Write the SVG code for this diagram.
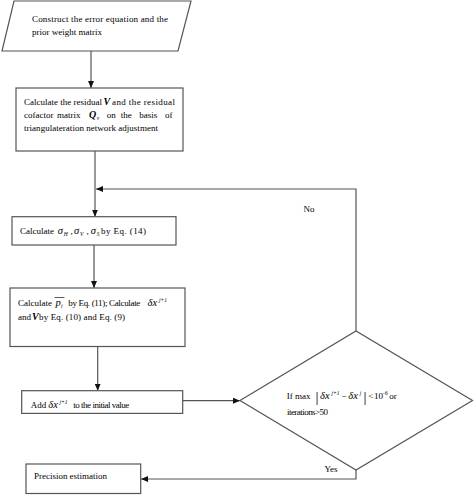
<svg xmlns="http://www.w3.org/2000/svg" width="474" height="495" viewBox="0 0 474 495">
<defs>
<style>
.box{fill:#fff;stroke:#555;stroke-width:1.2}
.con{fill:none;stroke:#555;stroke-width:1.2}
text{font-family:"Liberation Serif","Times New Roman",serif;font-size:9px;fill:#000}
.it{font-style:italic}
.m{font-style:italic;font-size:10.5px}
.bi{font-style:italic;font-weight:bold;font-size:10px}
.sub{font-size:5.5px;font-style:italic}
</style>
<marker id="ah" markerWidth="7" markerHeight="6" refX="7" refY="3" orient="auto" markerUnits="userSpaceOnUse">
<path d="M0,0 L7,3 L0,6 z" fill="#111"/>
</marker>
</defs>
<rect width="474" height="495" fill="#fff"/>

<g id="connectors">
<path class="con" d="M91,51 V88" marker-end="url(#ah)"/>
<path class="con" d="M95,151 V216.7" marker-end="url(#ah)"/>
<path class="con" d="M356,331 V189 H96" marker-end="url(#ah)"/>
<path class="con" d="M94,245 V288" marker-end="url(#ah)"/>
<path class="con" d="M97.7,346.5 V390.7" marker-end="url(#ah)"/>
<path class="con" d="M182.7,400.7 H240" marker-end="url(#ah)"/>
<path class="con" d="M356,470 V479 H141" marker-end="url(#ah)"/>
<text x="309" y="211.5" text-anchor="middle">No</text>
<text x="331" y="471.5" text-anchor="middle">Yes</text>
</g>

<g id="n1">
<polygon class="box" points="14,1 191,1 178,51 2,51"/>
<text x="32" y="21.5" textLength="136" lengthAdjust="spacing">Construct the error equation and the</text>
<text x="32" y="34.5">prior weight matrix</text>
</g>

<g id="n2">
<rect class="box" x="16" y="88" width="167" height="63"/>
<text x="24" y="104.5" textLength="78" lengthAdjust="spacingAndGlyphs">Calculate the residual</text>
<text x="103.5" y="104.5" class="bi">V</text>
<text x="112" y="104.5" textLength="63" lengthAdjust="spacing">and the residual</text>
<text x="24" y="117.5">cofactor</text>
<text x="57" y="117.5">matrix</text>
<text x="89" y="117.5" class="bi">Q</text>
<text x="96.8" y="119.5" class="sub">v</text>
<text x="106.7" y="117.5">on</text>
<text x="120.7" y="117.5">the</text>
<text x="139.3" y="117.5">basis</text>
<text x="165" y="117.5">of</text>
<text x="24" y="131" textLength="134" lengthAdjust="spacing">triangulateration network adjustment</text>
</g>

<g id="n3">
<rect class="box" x="12" y="216.7" width="164" height="28.3"/>
<text x="20" y="234">Calculate</text>
<text x="57.7" y="234" class="m">σ</text>
<text x="63.8" y="236" class="sub">H</text>
<text x="70.5" y="234">,</text>
<text x="74" y="234" class="m">σ</text>
<text x="80.1" y="236" class="sub">V</text>
<text x="86.5" y="234">,</text>
<text x="90.7" y="234" class="m">σ</text>
<text x="96.8" y="236" class="sub">S</text>
<text x="101" y="234" textLength="45" lengthAdjust="spacing">by Eq. (14)</text>
</g>

<g id="n4">
<rect class="box" x="10" y="288" width="175" height="58.5"/>
<text x="18" y="306">Calculate</text>
<line x1="54.5" y1="297.5" x2="64.5" y2="297.5" stroke="#111" stroke-width="0.7"/>
<text x="55.5" y="306" class="m">p</text>
<text x="61.1" y="308" class="sub">i</text>
<text x="68.3" y="306" textLength="72" lengthAdjust="spacing">by Eq. (11); Calculate</text>
<text x="147.5" y="306" class="m">δx</text>
<text x="159" y="302" class="sub">j+1</text>
<text x="18" y="320">and</text>
<text x="32" y="320" class="bi">V</text>
<text x="39" y="320" textLength="86" lengthAdjust="spacing">by Eq. (10) and Eq. (9)</text>
</g>

<g id="n5">
<rect class="box" x="21.7" y="390.7" width="161" height="22.7"/>
<text x="30.7" y="407.5">Add</text>
<text x="48.3" y="407.5" class="m">δx</text>
<text x="59.6" y="403.5" class="sub">j+1</text>
<text x="73.3" y="407.5" textLength="56" lengthAdjust="spacing">to the initial value</text>
</g>

<g id="n6">
<polygon class="box" points="240,400.5 356,331 472.5,400.5 356,470"/>
<text x="286.7" y="399">If</text>
<text x="295" y="399">max</text>
<text x="315.5" y="401.5" style="font-size:15px">|</text>
<text x="320" y="399" class="m">δx</text>
<text x="331.4" y="395" class="sub">j+1</text>
<text x="341.5" y="399">−</text>
<text x="348.3" y="399" class="m">δx</text>
<text x="359.7" y="395" class="sub">j</text>
<text x="363.5" y="401.5" style="font-size:15px">|</text>
<text x="368.3" y="399">&lt;</text>
<text x="374" y="399">10</text>
<text x="382" y="395" style="font-size:5.5px">−6</text>
<text x="389.3" y="399">or</text>
<text x="287" y="415" textLength="41" lengthAdjust="spacing">iterations&gt;50</text>
</g>

<g id="n7">
<rect class="box" x="26" y="464" width="114.7" height="29.5"/>
<text x="34" y="478.5" textLength="73" lengthAdjust="spacing">Precision estimation</text>
</g>
</svg>
